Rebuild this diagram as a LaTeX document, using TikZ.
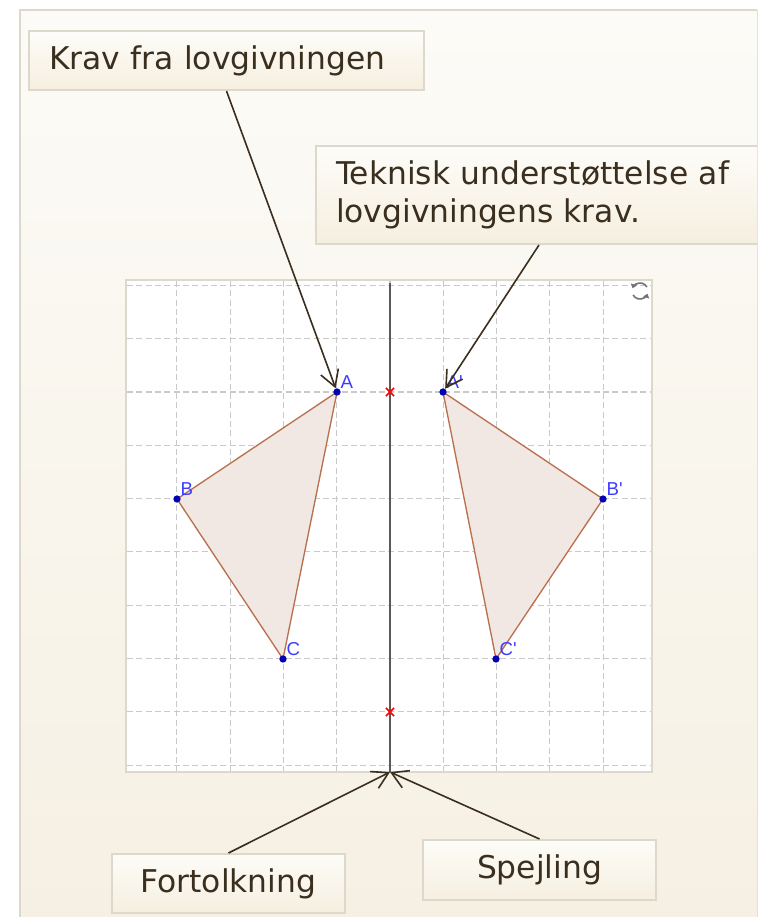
\documentclass[tikz,border=0pt]{standalone}
\usepackage{fontspec}
\setmainfont{DejaVu Sans}
\newfontfamily\ptfont{Liberation Sans}
\usepackage{tikz}
\usetikzlibrary{arrows.meta, positioning, shapes.misc}

\definecolor{bgTop}{HTML}{FCFBF7}
\definecolor{bgBottom}{HTML}{F6F0E3}
\definecolor{edgeGray}{HTML}{DCD8CC}
\definecolor{boxTop}{HTML}{FDFCF8}
\definecolor{boxBottom}{HTML}{F6EFE0}
\definecolor{ink}{HTML}{3A2E1E}
\definecolor{arrowInk}{HTML}{3A2E1F}
\definecolor{gridGray}{HTML}{C9C9C9}
\definecolor{triEdge}{HTML}{B9704E}
\definecolor{triFill}{HTML}{F2E8E3}
\definecolor{ptBlue}{HTML}{0000B4}
\definecolor{labelBlue}{HTML}{3C3CFF}

\begin{document}
\begin{tikzpicture}[
    x=0.75pt, y=-0.75pt,
    callout/.style={rectangle, draw=edgeGray, line width=1.5pt, top color=boxTop, bottom color=boxBottom, text=ink, font=\fontsize{23.5}{28.5}\selectfont, inner ysep=0pt, anchor=north west},
    gridline/.style={gridGray, line width=0.8pt, dash pattern=on 4.5pt off 2.5pt},
    axisline/.style={black!65, line width=1.3pt},
    triangle/.style={draw=triEdge, fill=triFill, line width=1pt, line join=round},
    pt/.style={circle, fill=ptBlue, inner sep=0pt, minimum size=5.5pt},
    ptlabel/.style={text=labelBlue, font=\ptfont\fontsize{14}{15}\selectfont, inner sep=0.5pt, anchor=south west},
    mirrorpt/.style={cross out, draw=red, line width=1.1pt, inner sep=0pt, minimum size=5pt},
    callarrow/.style={draw=arrowInk, line width=1.2pt, -{Straight Barb[length=12pt, width=14pt]}},
]

    % page and background panel
    \clip (0,0) rectangle (757,917);
    \fill[white] (0,0) rectangle (757,917);
    \fill[top color=bgTop, bottom color=bgBottom] (20,10) rectangle (770,930);
    \draw[edgeGray, line width=1.5pt] (20,930) -- (20,10) -- (770,10);

    % geometry window
    \draw[edgeGray, line width=1.5pt, fill=white] (126,280) rectangle (652,772);
    \foreach \k in {-4,...,4}
        \draw[gridline] ({390+53.3*\k},281) -- ({390+53.3*\k},771);
    \foreach \k in {-2,...,7}
        \draw[gridline] (127,{392+53.3*\k}) -- (651,{392+53.3*\k});
    \draw[axisline] (390,283) -- (390,772);
    \coordinate (mirrorfoot) at (390,772);

    % refresh icon
    \draw[black!55, line width=1.2pt, -{Triangle[length=3pt, width=4.5pt]}] (640,291) ++(330:8) arc[start angle=330, end angle=200, radius=8];
    \draw[black!55, line width=1.2pt, -{Triangle[length=3pt, width=4.5pt]}] (640,291) ++(150:8) arc[start angle=150, end angle=20, radius=8];

    % triangles
    \coordinate (a) at (337,392);
    \coordinate (b) at (177,499);
    \coordinate (c) at (283,659);
    \coordinate (a') at (443,392);
    \coordinate (b') at (603,499);
    \coordinate (c') at (496,659);
    \draw[triangle] (a) -- (b) -- (c) -- cycle;
    \draw[triangle] (a') -- (b') -- (c') -- cycle;

    \node[pt, label={[ptlabel]north east:A}] (A) at (a) {};
    \node[pt, label={[ptlabel]north east:B}] (B) at (b) {};
    \node[pt, label={[ptlabel]north east:C}] (C) at (c) {};
    \node[pt, label={[ptlabel]north east:A'}] (A') at (a') {};
    \node[pt, label={[ptlabel]north east:B'}] (B') at (b') {};
    \node[pt, label={[ptlabel]north east:C'}] (C') at (c') {};

    \node[mirrorpt] (m1) at (390,392) {};
    \node[mirrorpt] (m2) at (390,712) {};

    % callouts
    \node[callout, minimum width=296.25pt, minimum height=44.25pt, text width=266.25pt, inner xsep=15pt, align=left] (krav) at (28,30) {Krav fra lovgivningen};
    \node[callout, minimum width=334.5pt, minimum height=73.5pt, text width=304.5pt, inner xsep=15pt, align=left] (teknisk) at (315,145) {Teknisk understøttelse af\\lovgivningens krav.};
    \node[callout, minimum width=174.75pt, minimum height=44.25pt, align=center] (fortolk) at (111,853) {Fortolkning};
    \node[callout, minimum width=174.75pt, minimum height=45pt, align=center] (spejl) at (422,839) {Spejling};

    \draw[callarrow] (krav.south) -- (A);
    \draw[callarrow] (teknisk.south) -- (A');
    \draw[callarrow] (fortolk.north) -- (mirrorfoot);
    \draw[callarrow] (spejl.north) -- (mirrorfoot);

\end{tikzpicture}
\end{document}
